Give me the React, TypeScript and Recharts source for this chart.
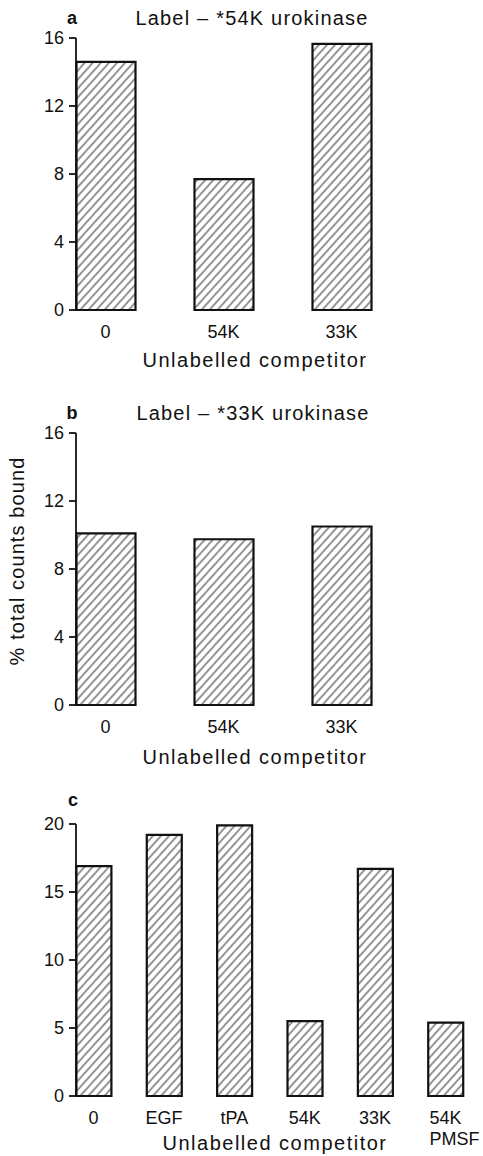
import { Bar, BarChart, XAxis, YAxis } from "recharts";
import type { CSSProperties } from "react";

// competitor categories and % total counts bound
const competitorsAB = ["0", "54K", "33K"];
const bound54K = [14.6, 7.7, 15.65];
const bound33K = [10.1, 9.75, 10.5];
const competitorsC = ["0", "EGF", "tPA", "54K", "33K", "54K\nPMSF"];
const boundC = [16.9, 19.2, 19.9, 5.5, 16.7, 5.4];
const ticksAB = [0, 4, 8, 12, 16];
const ticksC = [0, 5, 10, 15, 20];

const ink = "#111";
const font = "'Liberation Sans', Arial, sans-serif";

type Row = { pos: number; label: string; value: number };

// each bar sits in the left half of its slot, tick marks on the slot edges
const toRows = (labels: string[], values: number[]): Row[] =>
  labels.map((label, i) => ({ pos: i + 0.25, label, value: values[i] }));

function CategoryTick(props: any) {
  const { x, y, payload, rows } = props;
  const row = (rows as Row[]).find((r) => r.pos === payload.value);
  const lines = (row?.label ?? "").split("\n");
  if (lines.length === 1) {
    return (
      <text x={x} y={y} dy="0.71em" textAnchor="middle" fontSize={18} fill={ink} fontFamily={font}>
        {lines[0]}
      </text>
    );
  }
  return (
    <text x={x - 16} y={y} textAnchor="start" fontSize={18} fill={ink} fontFamily={font}>
      {lines.map((line, i) => (
        <tspan key={i} x={x - 16} dy={i === 0 ? "0.71em" : 21}>
          {line}
        </tspan>
      ))}
    </text>
  );
}

type PanelProps = {
  top: number;
  height: number;
  rightMargin: number;
  rows: Row[];
  yMax: number;
  yTicks: number[];
  barSize: number;
  xMax: number;
};

function Panel({ top, height, rightMargin, rows, yMax, yTicks, barSize, xMax }: PanelProps) {
  const edges = Array.from({ length: rows.length + (xMax % 1 === 0 ? 1 : 0) }, (_, i) => i);
  const axisStroke = { stroke: ink, strokeWidth: 1.8 };
  return (
    <div style={{ position: "absolute", left: 0, top }}>
      <BarChart width={483} height={height} data={rows} margin={{ top: 38, left: 36, right: rightMargin, bottom: 0 }}>
        <XAxis
          xAxisId="edges"
          dataKey="pos"
          type="number"
          domain={[0, xMax]}
          ticks={edges}
          tick={false}
          tickSize={7}
          height={0}
          axisLine={axisStroke}
          tickLine={axisStroke}
        />
        <XAxis
          xAxisId="names"
          dataKey="pos"
          type="number"
          domain={[0, xMax]}
          ticks={rows.map((r) => r.pos)}
          tick={<CategoryTick rows={rows} />}
          tickSize={0}
          tickMargin={15}
          height={60}
          axisLine={false}
          tickLine={false}
        />
        <YAxis
          type="number"
          domain={[0, yMax]}
          ticks={yTicks}
          width={40}
          tickSize={7}
          tickMargin={5}
          axisLine={axisStroke}
          tickLine={axisStroke}
          tick={{ fill: ink, fontSize: 18, fontFamily: font }}
        />
        <Bar
          xAxisId="edges"
          dataKey="value"
          barSize={barSize}
          fill="url(#hatch)"
          stroke={ink}
          strokeWidth={2.2}
          isAnimationActive={false}
        />
      </BarChart>
    </div>
  );
}

function Caption({ x, y, text, size = 20, bold = false, spacing = 0, style }: { x: number; y: number; text: string; size?: number; bold?: boolean; spacing?: number; style?: CSSProperties }) {
  return (
    <div
      style={{
        position: "absolute",
        left: x,
        top: y,
        transform: "translate(-50%, -50%)",
        fontFamily: font,
        fontSize: size,
        fontWeight: bold ? 700 : 400,
        letterSpacing: spacing,
        lineHeight: 1,
        whiteSpace: "nowrap",
        color: ink,
        ...style,
      }}
    >
      {text}
    </div>
  );
}

export default function App() {
  return (
    <div style={{ position: "absolute", left: 0, top: 0, width: 483, height: 1156, background: "#fff", overflow: "hidden" }}>
      <svg width={0} height={0} style={{ position: "absolute" }}>
        <defs>
          <pattern id="hatch" patternUnits="userSpaceOnUse" width={6} height={10} patternTransform="rotate(42)">
            <line x1={3} y1={0} x2={3} y2={10} stroke={ink} strokeWidth={0.9} />
          </pattern>
        </defs>
      </svg>

      <Caption x={72} y={18} text="a" size={18} bold />
      <Caption x={252} y={18} text="Label – *54K urokinase" spacing={1.2} />
      <Panel top={0} height={370} rightMargin={53} rows={toRows(competitorsAB, bound54K)} yMax={16} yTicks={ticksAB} barSize={59} xMax={3} />
      <Caption x={255} y={360} text="Unlabelled competitor" spacing={1.5} />

      <Caption x={72} y={413} text="b" size={18} bold />
      <Caption x={253} y={413} text="Label – *33K urokinase" spacing={1.2} />
      <Panel top={395} height={370} rightMargin={53} rows={toRows(competitorsAB, bound33K)} yMax={16} yTicks={ticksAB} barSize={59} xMax={3} />
      <Caption x={255} y={757} text="Unlabelled competitor" spacing={1.5} />
      <Caption x={17} y={561} text="% total counts bound" spacing={1.1} style={{ transform: "translate(-50%, -50%) rotate(-90deg)" }} />

      <Caption x={73} y={800} text="c" size={18} bold />
      <Panel top={786} height={370} rightMargin={20} rows={toRows(competitorsC, boundC)} yMax={20} yTicks={ticksC} barSize={35} xMax={5.5} />
      <Caption x={275} y={1143} text="Unlabelled competitor" spacing={1.5} />
    </div>
  );
}
